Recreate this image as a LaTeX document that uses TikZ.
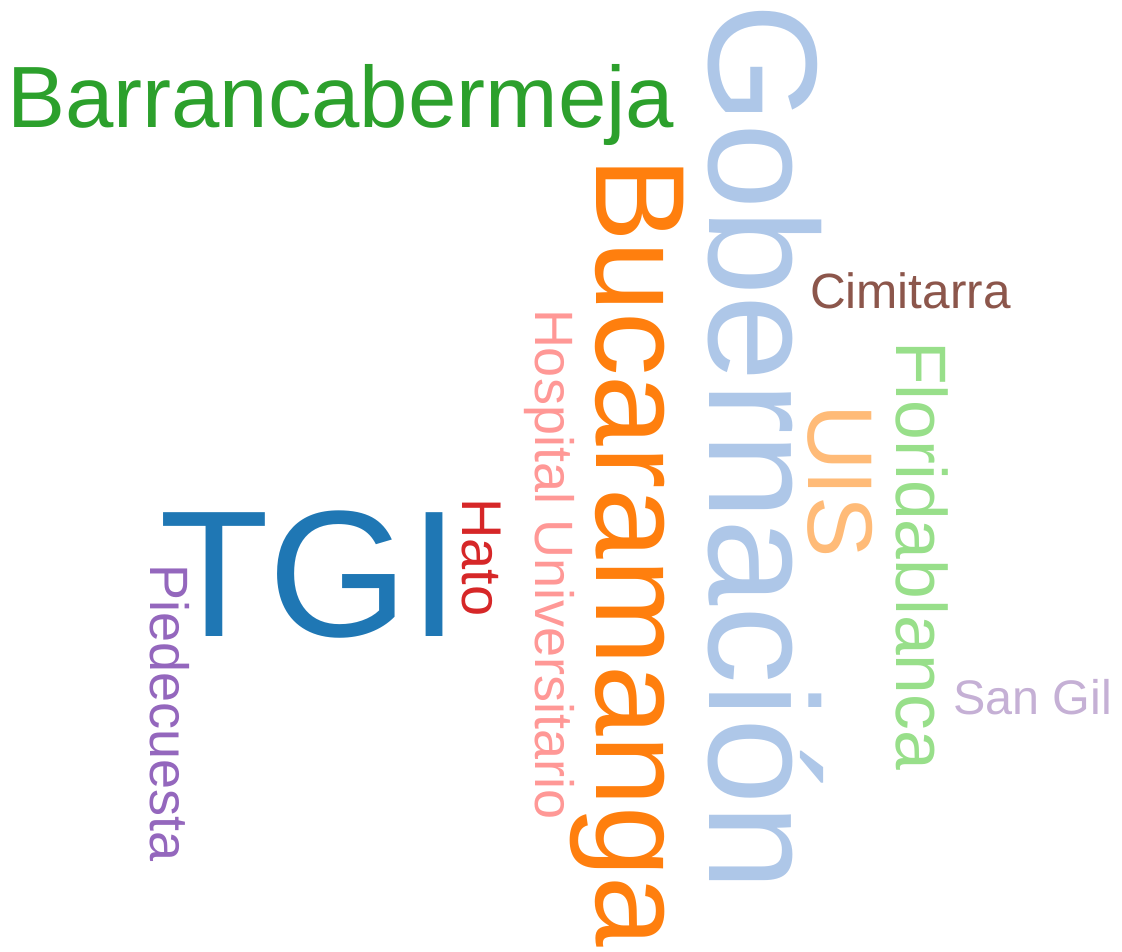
\documentclass[tikz,border=0pt]{standalone}
\usepackage{fontspec}
\setmainfont{Liberation Sans}
\definecolor{cgreen}{HTML}{2CA02C}
\definecolor{cblue}{HTML}{1F77B4}
\definecolor{clblue}{HTML}{AEC7E8}
\definecolor{corange}{HTML}{FF7F0E}
\definecolor{cbrown}{HTML}{8C564B}
\definecolor{cpink}{HTML}{FF9896}
\definecolor{clorange}{HTML}{FFBB78}
\definecolor{clgreen}{HTML}{98DF8A}
\definecolor{clav}{HTML}{C5B0D5}
\definecolor{cred}{HTML}{D62728}
\definecolor{cpurple}{HTML}{9467BD}
\tikzset{
  word/.style={inner sep=0pt, outer sep=0pt, anchor=base west},
  vword/.style={word, rotate=-90},
}
\newcommand{\fs}[1]{\fontsize{#1}{#1}\selectfont}
\begin{document}
\begin{tikzpicture}[x=1pt,y=1pt]
\useasboundingbox (0,0) rectangle (1122,-951);
\node[word, text=cgreen, font=\fs{87}] (barranca) at (7,-127) {Barrancabermeja};
\node[word, text=cblue, font=\fs{180}] (tgi) at (159,-636) {TGI};
\node[vword, text=clblue, font=\fs{155}] (gob) at (709,-3) {Gobernación};
\node[vword, text=corange, font=\fs{127}] (buca) at (596,-157) {Bucaramanga};
\node[word, text=cbrown, font=\fs{49.5}] (cimi) at (810,-308) {Cimitarra};
\node[vword, text=cpink, font=\fs{54}] (hosp) at (535,-309) {Hospital Universitario};
\node[vword, text=clorange, font=\fs{92}] (uis) at (808,-404) {UIS};
\node[vword, text=clgreen, font=\fs{71.5}] (flor) at (896,-341) {Floridablanca};
\node[word, text=clav, font=\fs{48.5}] (sangil) at (953,-714) {San Gil};
\node[vword, text=cred, font=\fs{56}] (hato) at (462,-498) {Hato};
\node[vword, text=cpurple, font=\fs{54}] (pied) at (150,-564) {Piedecuesta};
\end{tikzpicture}
\end{document}
